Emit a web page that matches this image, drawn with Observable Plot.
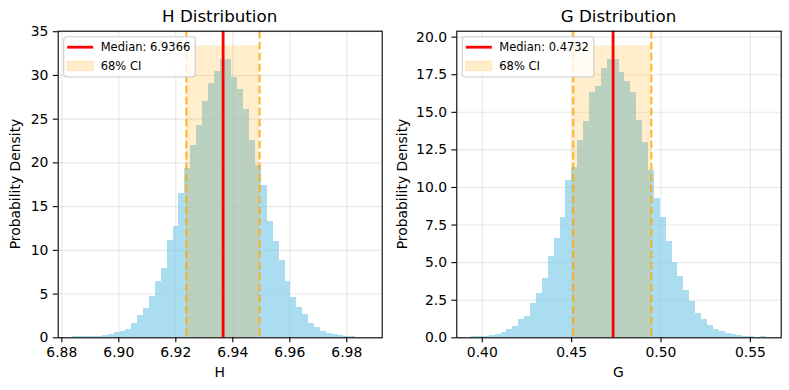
<!DOCTYPE html>
<html>
<head>
<meta charset="utf-8">
<script src="https://cdn.jsdelivr.net/npm/d3@7"></script>
<script src="https://cdn.jsdelivr.net/npm/@observablehq/plot@0.6"></script>
<style>
  html, body { margin: 0; padding: 0; background: white; }
  #chart { position: relative; width: 789px; height: 390px; overflow: hidden; }
  #chart svg { position: absolute; top: 0; }
</style>
</head>
<body>
<div id="chart"></div>
<script>
// ---------- H panel data ----------
const hBinStart = 6.8839;
const hBinWidth = 0.002067;
const hDensity = [
  0.10, 0.12, 0.14, 0.15, 0.17, 0.30, 0.42, 0.60, 0.72, 0.95,
  1.64, 2.55, 3.35, 4.77, 6.44, 7.97, 11.1, 12.7, 16.5, 19.4,
  22.0, 24.3, 27.0, 29.1, 30.4, 31.8, 31.8, 29.8, 28.4, 26.1,
  22.6, 19.7, 17.4, 13.3, 11.0, 8.8, 6.45, 4.65, 3.5, 2.67,
  1.66, 1.2, 0.75, 0.5, 0.4, 0.3, 0.2, 0.15, 0.0, 0.05
];
const hMedian = 6.9366;
const hCI = [6.9237, 6.9494];
const hXTicks = [6.88, 6.90, 6.92, 6.94, 6.96, 6.98];
const hYTicks = [0, 5, 10, 15, 20, 25, 30, 35];

// ---------- G panel data ----------
const gBinStart = 0.3940;
const gBinWidth = 0.0033;
const gDensity = [
  0.07, 0.09, 0.09, 0.15, 0.24, 0.37, 0.55, 0.75, 1.23, 1.43,
  2.29, 2.96, 3.96, 5.41, 6.61, 8.0, 10.47, 11.33, 13.12, 14.4,
  16.34, 16.72, 17.9, 18.5, 18.5, 17.65, 17.05, 16.34, 14.46, 12.99,
  11.13, 9.27, 8.0, 6.41, 5.01, 4.08, 3.15, 2.42, 1.62, 1.22,
  0.82, 0.55, 0.4, 0.27, 0.2, 0.13, 0.09, 0.09, 0.0, 0.09
];
const gMedian = 0.4732;
const gCI = [0.4509, 0.4946];
const gXTicks = [0.40, 0.45, 0.50, 0.55];
const gYTicks = [0, 2.5, 5, 7.5, 10, 12.5, 15, 17.5, 20];

function panel(cfg) {
  const bins = cfg.density.map((d, i) => ({
    x1: cfg.binStart + i * cfg.binWidth,
    x2: cfg.binStart + (i + 1) * cfg.binWidth,
    d
  }));
  const xLo = cfg.binStart, xHi = cfg.binStart + cfg.density.length * cfg.binWidth;
  const xPad = (xHi - xLo) * 0.05;
  const ciTop = d3.max(cfg.density) * 1.05;
  const yMax = ciTop * 1.05;
  const gridStyle = {stroke: "#b0b0b0", strokeOpacity: 0.3, strokeWidth: 1.1};

  const node = Plot.plot({
    width: cfg.width,
    height: 390,
    marginLeft: cfg.ml,
    marginRight: cfg.mr,
    marginTop: 30.7,
    marginBottom: 52.7,
    x: {domain: [xLo - xPad, xHi + xPad], axis: null},
    y: {domain: [0, yMax], axis: null},
    style: {fontFamily: "DejaVu Sans", fontSize: "13.9px", color: "black", background: "white", overflow: "visible"},
    marks: [
      Plot.gridX(cfg.xTicks, gridStyle),
      Plot.gridY(cfg.yTicks, gridStyle),
      Plot.rect(bins, {x1: "x1", x2: "x2", y1: 0, y2: "d", fill: "#87CEEB", fillOpacity: 0.7, shapeRendering: "crispEdges"}),
      Plot.rect([cfg.ci], {x1: d => d[0], x2: d => d[1], y1: 0, y2: ciTop, fill: "#FFA500", fillOpacity: 0.2}),
      Plot.ruleX([cfg.median], {stroke: "red", strokeWidth: 2.8}),
      Plot.ruleX(cfg.ci, {stroke: "#FFA500", strokeOpacity: 0.8, strokeWidth: 2.1, strokeDasharray: "7.7,3.3"}),
      Plot.axisX(cfg.xTicks, {tickSize: 4.9, tickPadding: 4.9, tickFormat: cfg.xFmt, fontSize: 13.9, label: null, strokeWidth: 1.1}),
      Plot.axisY(cfg.yTicks, {tickSize: 4.9, tickPadding: 4.9, tickFormat: cfg.yFmt, fontSize: 13.9, label: null, strokeWidth: 1.1}),
      Plot.frame({stroke: "black", strokeWidth: 1.1})
    ]
  });
  node.style.left = cfg.left + "px";
  const svg = d3.select(node);
  const cx = (cfg.ml + (cfg.width - cfg.mr)) / 2;
  svg.append("text").attr("x", cx).attr("y", 22).attr("text-anchor", "middle")
    .attr("font-size", 16.7).attr("fill", "black").text(cfg.title);
  svg.append("text").attr("x", cx).attr("y", 376.5).attr("text-anchor", "middle")
    .attr("font-size", 13.9).attr("fill", "black").text(cfg.xLabel);
  svg.append("text").attr("transform", `translate(${cfg.yLabelX},184) rotate(-90)`)
    .attr("text-anchor", "middle").attr("font-size", 13.9).attr("fill", "black").text("Probability Density");

  const lg = svg.append("g").attr("transform", `translate(${cfg.ml + 6},36.7)`).attr("text-anchor", "start");
  lg.append("rect").attr("width", 131.5).attr("height", 40.3).attr("rx", 2.8)
    .attr("fill", "white").attr("fill-opacity", 0.8).attr("stroke", "#cccccc").attr("stroke-width", 1.1);
  lg.append("line").attr("x1", 3.5).attr("x2", 29.5).attr("y1", 10.5).attr("y2", 10.5)
    .attr("stroke", "red").attr("stroke-width", 2.8);
  lg.append("text").attr("x", 37).attr("y", 14.5).attr("font-size", 11.5).attr("fill", "black")
    .attr("text-anchor", "start").text("Median: " + cfg.median.toFixed(4));
  lg.append("rect").attr("x", 3.5).attr("y", 24.5).attr("width", 26).attr("height", 9.5)
    .attr("fill", "#FFA500").attr("fill-opacity", 0.2).attr("stroke", "#FFA500").attr("stroke-opacity", 0.2);
  lg.append("text").attr("x", 37).attr("y", 33.5).attr("font-size", 11.5).attr("fill", "black")
    .attr("text-anchor", "start").text("68% CI");
  return node;
}

const chart = document.getElementById("chart");
chart.appendChild(panel({
  density: hDensity, binStart: hBinStart, binWidth: hBinWidth, median: hMedian, ci: hCI,
  xTicks: hXTicks, yTicks: hYTicks, xFmt: d => d.toFixed(2), yFmt: d => d.toFixed(0),
  title: "H Distribution", xLabel: "H", width: 394, ml: 57.7, mr: 12.3, left: 0, yLabelX: 19.5
}));
chart.appendChild(panel({
  density: gDensity, binStart: gBinStart, binWidth: gBinWidth, median: gMedian, ci: gCI,
  xTicks: gXTicks, yTicks: gYTicks, xFmt: d => d.toFixed(2), yFmt: d => d.toFixed(1),
  title: "G Distribution", xLabel: "G", width: 395, ml: 62.3, mr: 8.3, left: 394, yLabelX: 12.7
}));
</script>
</body>
</html>
